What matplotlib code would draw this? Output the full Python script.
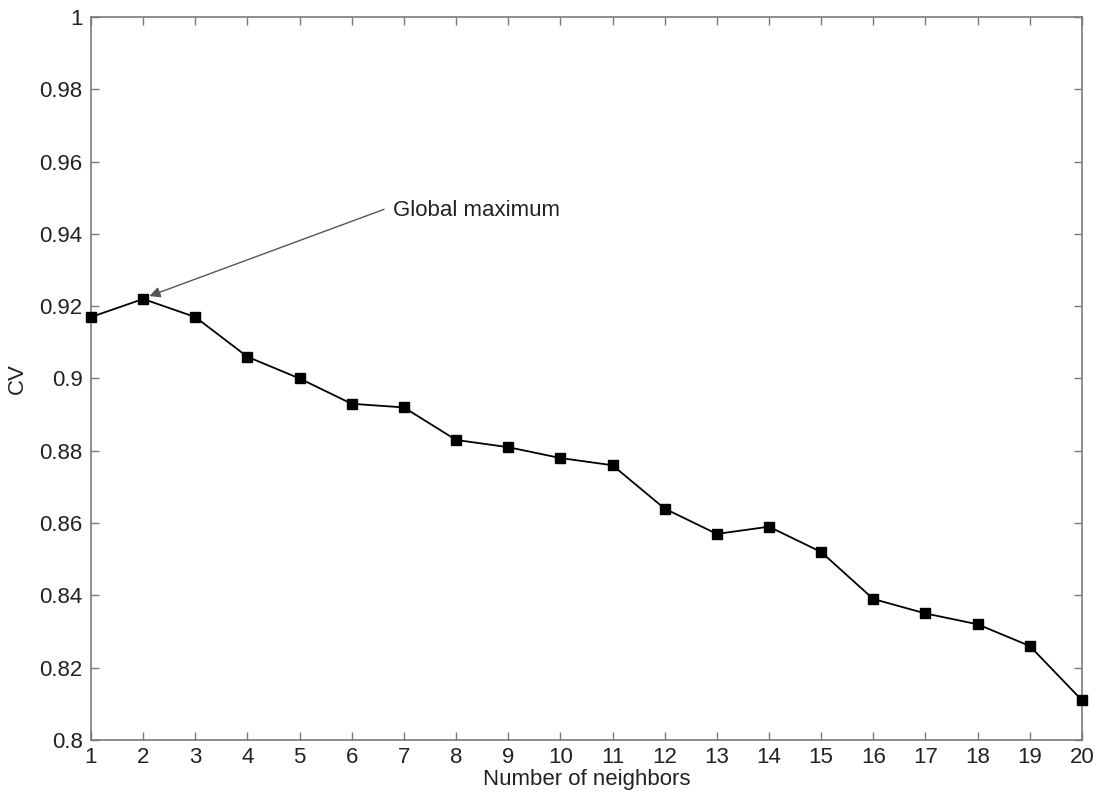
import matplotlib
matplotlib.use('Agg')
import matplotlib.pyplot as plt

# CV score per neighbourhood size
NEIGHBORS = list(range(1, 21))
CV = [0.917, 0.922, 0.917, 0.906, 0.900, 0.893, 0.892, 0.883, 0.881, 0.878,
      0.876, 0.864, 0.857, 0.859, 0.852, 0.839, 0.835, 0.832, 0.826, 0.811]
YTICKS = [0.80, 0.82, 0.84, 0.86, 0.88, 0.90, 0.92, 0.94, 0.96, 0.98, 1.00]
YTICKLABELS = ['0.8', '0.82', '0.84', '0.86', '0.88', '0.9', '0.92', '0.94',
               '0.96', '0.98', '1']

AXIS = '#7a7a7a'
INK = '#222222'
FS = 16

plt.rcParams['font.family'] = ['Liberation Sans', 'DejaVu Sans']

fig = plt.figure(figsize=(11.04, 7.96), dpi=100)
ax = fig.add_axes([0.0824, 0.0704, 0.8976, 0.9082])

ax.plot(NEIGHBORS, CV, color='black', lw=1.3, marker='s', ms=6.5,
        mfc='black', mec='black', clip_on=False, zorder=3)

ax.set_xlim(1, 20)
ax.set_ylim(0.8, 1.0)
ax.set_xticks(NEIGHBORS)
ax.set_yticks(YTICKS)
ax.set_yticklabels(YTICKLABELS)
ax.tick_params(direction='in', top=True, right=True, length=6, width=1,
               color=AXIS, labelsize=FS, labelcolor=INK)
ax.tick_params(axis='x', pad=5)
ax.tick_params(axis='y', pad=6)
for s in ax.spines.values():
    s.set_color(AXIS)
    s.set_linewidth(1.2)

ax.set_xlabel('Number of neighbors', fontsize=FS, color=INK, labelpad=1)
ax.set_ylabel('CV', fontsize=FS, color=INK, labelpad=8)

# label and arrow pointing at the best point
ax.text(6.8, 0.9465, 'Global maximum', fontsize=FS, color=INK,
        va='center', ha='left')
ax.annotate('', xy=(2.12, 0.9228), xytext=(6.62, 0.9468),
            arrowprops=dict(arrowstyle='-|>', color='#555555', lw=1.0,
                            mutation_scale=16, shrinkA=0, shrinkB=0))

fig.savefig('out.png', dpi=100, facecolor='white')
